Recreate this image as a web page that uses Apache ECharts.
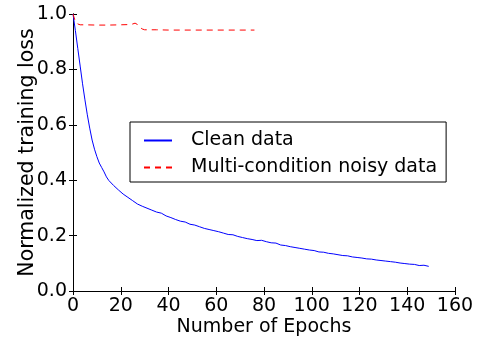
<!DOCTYPE html>
<html>
<head>
<meta charset="utf-8">
<script src="https://cdn.jsdelivr.net/npm/echarts@6/dist/echarts.min.js"></script>
<style>html,body{margin:0;padding:0;background:#fff}#c{width:479px;height:341px}</style>
</head>
<body>
<div id="c"></div>
<script>
const xTicks = [0, 20, 40, 60, 80, 100, 120, 140, 160];
const yTicks = ['0.0', '0.2', '0.4', '0.6', '0.8', '1.0'];
const seriesNames = ['Clean data', 'Multi-condition noisy data'];

const cleanEpochs = [0,1,2,3,4,5,6,7,8,9,10,11,12,13,14,15,17,19,21,23,25,27,29,31,33,35,37,39,41,43,45,47,49,51,53,55,57,59,61,63,65,67,69,71,73,75,77,79,81,83,85,87,89,91,93,95,97,99,101,103,105,107,109,111,113,115,117,119,121,123,125,127,129,131,133,135,137,139,141,143,145,147,149];
const cleanLoss = [1.000,0.940,0.876,0.812,0.748,0.690,0.636,0.588,0.545,0.512,0.485,0.462,0.446,0.430,0.412,0.399,0.381,0.365,0.350,0.338,0.326,0.314,0.306,0.299,0.292,0.285,0.281,0.271,0.265,0.258,0.252,0.249,0.241,0.238,0.232,0.226,0.222,0.218,0.214,0.209,0.204,0.203,0.197,0.193,0.189,0.186,0.182,0.183,0.178,0.174,0.173,0.166,0.164,0.160,0.157,0.154,0.151,0.148,0.146,0.141,0.140,0.136,0.134,0.131,0.128,0.127,0.123,0.121,0.119,0.116,0.115,0.112,0.110,0.108,0.106,0.104,0.101,0.099,0.097,0.096,0.092,0.093,0.089];

const noisyEpochs = [0,1,2,3,5,10,15,20,24,25,26,27,28,29,30,35,40,50,60,70,76];
const noisyLoss = [1.000,0.972,0.964,0.961,0.961,0.960,0.960,0.961,0.962,0.964,0.967,0.962,0.952,0.946,0.943,0.943,0.942,0.942,0.942,0.942,0.942];

const zip = (a, b) => a.map((v, i) => [v, b[i]]);
const FONT = 'DejaVu Sans';
const FS = 19;

const chart = echarts.init(document.getElementById('c'), null, {renderer: 'canvas'});
const baseAxisLine = {show: true, lineStyle: {color: '#000', width: 1}};
const tick = {show: true, inside: true, length: 4, lineStyle: {color: '#000', width: 1}};

chart.setOption({
  animation: false,
  backgroundColor: '#fff',
  textStyle: {fontFamily: FONT},
  grid: {left: 73, right: 24, top: 14, bottom: 50, containLabel: false, outerBoundsMode: 'none'},
  xAxis: [{
    type: 'value', min: xTicks[0], max: xTicks[xTicks.length - 1], interval: 20,
    name: 'Number of Epochs', nameLocation: 'middle', nameGap: 27, nameMoveOverlap: false,
    nameTextStyle: {fontFamily: FONT, fontSize: FS, color: '#000'},
    axisLine: baseAxisLine, axisTick: tick, splitLine: {show: false},
    axisLabel: {fontFamily: FONT, fontSize: FS, color: '#000', margin: 6}
  }, {
    type: 'value', position: 'top', min: xTicks[0], max: xTicks[xTicks.length - 1], interval: 20,
    axisLine: baseAxisLine, axisTick: tick, splitLine: {show: false}, axisLabel: {show: false}
  }],
  yAxis: [{
    type: 'value', min: 0, max: 1, interval: 0.2,
    name: 'Normalized training loss', nameLocation: 'middle', nameGap: 35, nameMoveOverlap: false,
    nameTextStyle: {fontFamily: FONT, fontSize: 20.5, color: '#000'},
    axisLine: baseAxisLine, axisTick: tick, splitLine: {show: false},
    axisLabel: {fontFamily: FONT, fontSize: FS, color: '#000', margin: 6,
      formatter: v => yTicks[Math.round(v / 0.2)]}
  }, {
    type: 'value', position: 'right', min: 0, max: 1, interval: 0.2,
    axisLine: baseAxisLine, axisTick: tick, splitLine: {show: false}, axisLabel: {show: false}
  }],
  legend: {
    left: 130, top: 122, orient: 'vertical',
    backgroundColor: '#fff', borderColor: '#000', borderWidth: 1, borderRadius: 0,
    padding: [9, 9, 5, 13], itemGap: 8, itemWidth: 28, itemHeight: 14,
    itemStyle: {opacity: 0},
    textStyle: {fontFamily: FONT, fontSize: FS, color: '#000', padding: [0, 0, 0, 14]},
    data: seriesNames
  },
  series: [{
    name: seriesNames[0], type: 'line', data: zip(cleanEpochs, cleanLoss),
    symbol: 'none', lineStyle: {color: '#0000ff', width: 1}, itemStyle: {color: '#0000ff'}
  }, {
    name: seriesNames[1], type: 'line', data: zip(noisyEpochs, noisyLoss),
    symbol: 'none', lineStyle: {color: '#ff0000', width: 1, type: [6, 5]}, itemStyle: {color: '#ff0000'}
  }]
});
</script>
</body>
</html>
